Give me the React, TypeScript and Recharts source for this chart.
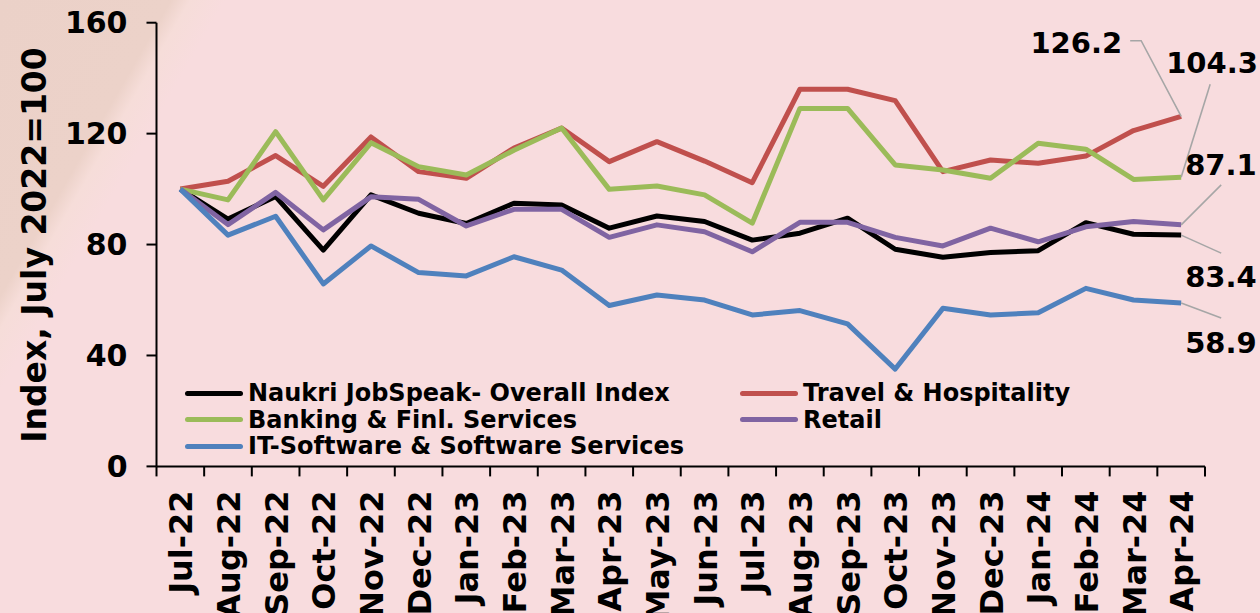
import React from 'react';
import { LineChart, Line, XAxis, YAxis, Legend, LabelList } from 'recharts';

const months = ['Jul-22', 'Aug-22', 'Sep-22', 'Oct-22', 'Nov-22', 'Dec-22', 'Jan-23', 'Feb-23', 'Mar-23', 'Apr-23', 'May-23', 'Jun-23', 'Jul-23', 'Aug-23', 'Sep-23', 'Oct-23', 'Nov-23', 'Dec-23', 'Jan-24', 'Feb-24', 'Mar-24', 'Apr-24'];
const overall = [100, 89.2, 97.3, 78, 97.9, 91.3, 87.6, 94.9, 94.3, 85.9, 90.3, 88.3, 81.6, 84.1, 89.5, 78.3, 75.4, 77.1, 77.8, 87.9, 83.7, 83.4];
const travel = [100, 102.8, 112.1, 101, 118.8, 106.3, 103.9, 114.8, 122, 109.9, 117.1, 110.1, 102.3, 136, 136, 131.9, 106.3, 110.5, 109.3, 111.9, 121.1, 126.2];
const banking = [100, 96.1, 120.7, 96.1, 116.7, 108.1, 105.1, 114, 122, 99.9, 101.1, 97.9, 87.7, 129.1, 129.1, 108.7, 106.9, 103.9, 116.5, 114.4, 103.5, 104.3];
const retail = [100, 87.2, 98.8, 85.3, 97.2, 96.3, 86.7, 92.7, 92.7, 82.6, 87.1, 84.6, 77.4, 88, 88, 82.6, 79.5, 85.9, 81, 86.4, 88.3, 87.1];
const itSoftware = [100, 83.4, 90.2, 65.8, 79.5, 69.9, 68.7, 75.6, 70.8, 58, 61.8, 60, 54.6, 56.2, 51.4, 35.1, 57, 54.6, 55.4, 64.2, 60, 58.9];
const yTicks = [0, 40, 80, 120, 160];

const seriesNames = ['Naukri JobSpeak- Overall Index', 'Travel & Hospitality', 'Banking & Finl. Services', 'Retail', 'IT-Software & Software Services'];
const seriesKeys = ['overall', 'travel', 'banking', 'retail', 'it'];
const seriesColors = ['#000000', '#C0504D', '#9BBB59', '#8064A2', '#4F81BD'];

const data = months.map((m, i) => ({
  month: m,
  overall: overall[i],
  travel: travel[i],
  banking: banking[i],
  retail: retail[i],
  it: itSoftware[i],
}));

const FONT = "'DejaVu Sans', Verdana, sans-serif";
const W = 1260;
const H = 613;
const TOP = 22.7;
const PLOT_BOTTOM = 466.4;
const Y_AXIS_W = 156.5;
const RIGHT = 55;
const HALF = (W - RIGHT - Y_AXIS_W) / months.length / 2;

// leader / label placement relative to the last point of each series
const endLabelCfg: Record<string, { pts: number[][]; tx: number; ty: number; anchor: string }> = {
  travel: { pts: [[0, 0], [-40, -75.7], [-51, -75.7]], tx: -59, ty: -63.4, anchor: 'end' },
  banking: { pts: [[0, 0], [29, -93]], tx: -15, ty: -104, anchor: 'start' },
  retail: { pts: [[0, 0], [40, -40]], tx: 4, ty: -50, anchor: 'start' },
  overall: { pts: [[0, 0], [40, 18]], tx: 4, ty: 52, anchor: 'start' },
  it: { pts: [[0, 0], [40, 15]], tx: 4, ty: 50, anchor: 'start' },
};

const makeEndLabel = (key: string) => (props: any) => {
  const { x, y, value, index } = props;
  if (index !== months.length - 1) return null;
  const cfg = endLabelCfg[key];
  const pts = cfg.pts.map((p) => `${x + p[0]},${y + p[1]}`).join(' ');
  return (
    <g>
      <polyline points={pts} fill="none" stroke="#A6A6A6" strokeWidth={1.6} />
      <text x={x + cfg.tx} y={y + cfg.ty} textAnchor={cfg.anchor as any} fontFamily={FONT} fontWeight="bold" fontSize={29} fill="#000">
        {Number(value).toFixed(1)}
      </text>
    </g>
  );
};

const XTick = (props: any) => {
  const { x, y, payload, index } = props;
  const last = index === months.length - 1;
  return (
    <g>
      <line x1={x - HALF} y1={y} x2={x - HALF} y2={y + 10} stroke="#000" strokeWidth={2} />
      {last && <line x1={x + HALF} y1={y} x2={x + HALF} y2={y + 10} stroke="#000" strokeWidth={2} />}
      <text
        transform={`translate(${x + 12},${y + 24}) rotate(-90)`}
        textAnchor="end"
        fontFamily={FONT}
        fontWeight="bold"
        fontSize={32}
        fill="#000"
      >
        {payload.value}
      </text>
    </g>
  );
};

const LegendContent = () => (
  <div
    style={{
      display: 'grid',
      gridTemplateColumns: '555px 555px',
      gridAutoRows: '26.5px',
      fontFamily: FONT,
      fontWeight: 'bold',
      fontSize: 24,
      color: '#000',
    }}
  >
    {seriesNames.map((name, i) => (
      <div key={name} style={{ display: 'flex', alignItems: 'center', height: 26.5, whiteSpace: 'nowrap' }}>
        <span style={{ display: 'inline-block', width: 58, height: 5, borderRadius: 3, background: seriesColors[i], marginRight: 5 }} />
        <span style={{ lineHeight: '26.5px' }}>{name}</span>
      </div>
    ))}
  </div>
);

export default function App() {
  return (
    <div
      style={{
        position: 'absolute',
        left: 0,
        top: 0,
        width: W,
        height: H,
        overflow: 'hidden',
        background: 'linear-gradient(120deg, #EBD1C8 0%, #ECD2C9 10.6%, #F6DDD9 11.8%, #F8DCDE 14%, #F8DCDE 100%)',
      }}
    >
      <LineChart width={W} height={H} data={data} margin={{ top: TOP, right: RIGHT, bottom: 0, left: 0 }}>
        <XAxis
          dataKey="month"
          height={H - PLOT_BOTTOM}
          interval={0}
          padding={{ left: HALF, right: HALF }}
          axisLine={{ stroke: '#000', strokeWidth: 2 }}
          tickLine={false}
          tickSize={0}
          tickMargin={0}
          tick={<XTick />}
        />
        <YAxis
          width={Y_AXIS_W}
          domain={[0, 160]}
          ticks={yTicks}
          interval={0}
          axisLine={{ stroke: '#000', strokeWidth: 2 }}
          tickLine={{ stroke: '#000', strokeWidth: 2 }}
          tickSize={10}
          tickMargin={19}
          tick={{ fill: '#000', fontSize: 30, fontWeight: 'bold', fontFamily: FONT }}
          label={{
            content: () => (
              <text
                transform="translate(46,245) rotate(-90)"
                textAnchor="middle"
                fontFamily={FONT}
                fontWeight="bold"
                fontSize={33}
                fill="#000"
              >
                Index, July 2022=100
              </text>
            ),
          }}
        />
        <Legend
          layout="horizontal"
          verticalAlign="middle"
          align="center"
          content={<LegendContent />}
          wrapperStyle={{ left: 185, top: 380, width: 1110, height: 80 }}
        />
        {seriesKeys.map((k, i) => (
          <Line
            key={k}
            type="linear"
            dataKey={k}
            name={seriesNames[i]}
            stroke={seriesColors[i]}
            strokeWidth={5}
            strokeLinejoin="round"
            dot={false}
            activeDot={false}
            isAnimationActive={false}
          >
            <LabelList dataKey={k} content={makeEndLabel(k)} />
          </Line>
        ))}
      </LineChart>
    </div>
  );
}
